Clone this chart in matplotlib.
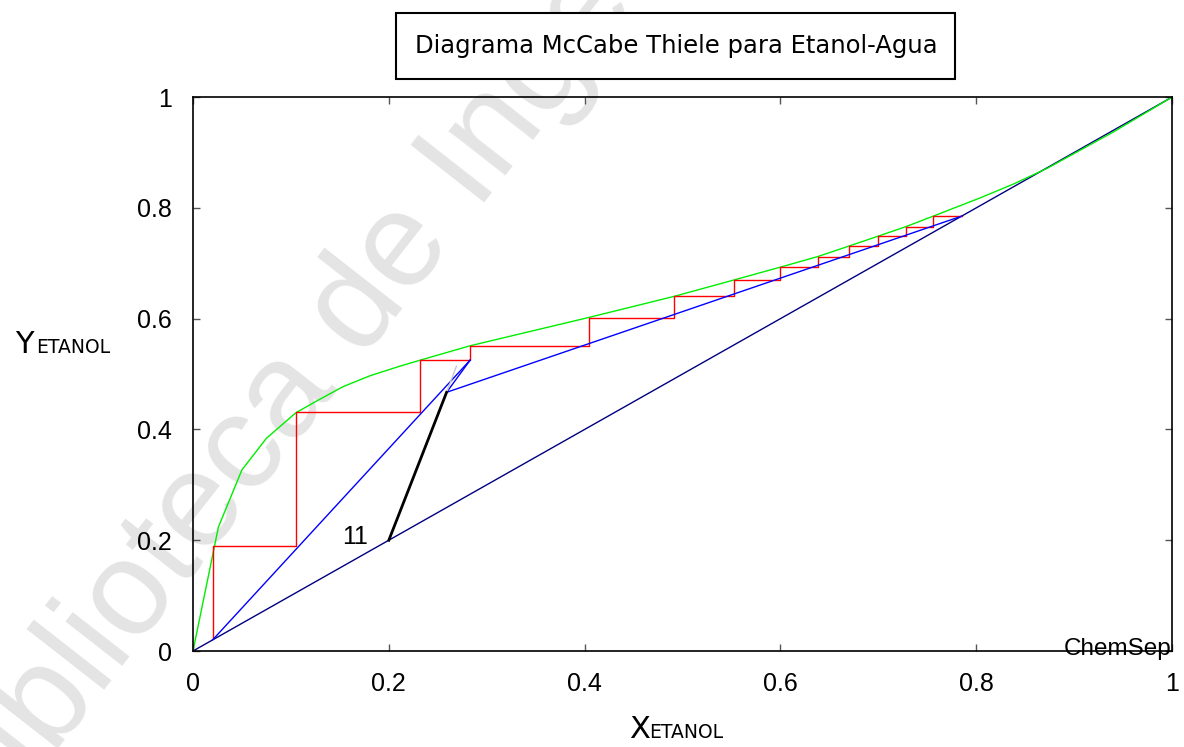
import matplotlib
matplotlib.use("Agg")
import matplotlib.pyplot as plt
from matplotlib.patches import Rectangle

# Equilibrium curve (etanol-agua)
x_eq = [0.0, 0.026, 0.050, 0.075, 0.105, 0.126, 0.153, 0.181, 0.211, 0.232,
        0.283, 0.404, 0.491, 0.553, 0.600, 0.638, 0.670, 0.700, 0.728, 0.756,
        0.804, 0.838, 0.872, 0.940, 1.0]
y_eq = [0.0, 0.224, 0.327, 0.384, 0.430, 0.451, 0.477, 0.497, 0.514, 0.525,
        0.551, 0.602, 0.640, 0.670, 0.693, 0.712, 0.731, 0.749, 0.766, 0.785,
        0.818, 0.843, 0.871, 0.937, 1.0]

# Operating lines
x_rect = [0.785, 0.259, 0.283]
y_rect = [0.785, 0.467, 0.525]
x_strip = [0.020, 0.283]
y_strip = [0.020, 0.525]

# q-line (feed)
x_q = [0.200, 0.259]
y_q = [0.200, 0.467]
x_q_ext = [0.259, 0.269]
y_q_ext = [0.467, 0.514]

# Stage stepping (from distillate down to bottoms)
x_steps = [0.785, 0.756, 0.756, 0.728, 0.728, 0.700, 0.700, 0.670, 0.670,
           0.638, 0.638, 0.600, 0.600, 0.553, 0.553, 0.491, 0.491, 0.404,
           0.404, 0.283, 0.283, 0.232, 0.232, 0.105, 0.105, 0.020, 0.020]
y_steps = [0.785, 0.785, 0.766, 0.766, 0.749, 0.749, 0.731, 0.731, 0.712,
           0.712, 0.693, 0.693, 0.670, 0.670, 0.640, 0.640, 0.602, 0.602,
           0.551, 0.551, 0.525, 0.525, 0.431, 0.431, 0.190, 0.190, 0.023]

ticks = [0, 0.2, 0.4, 0.6, 0.8, 1]
tick_labels = ["0", "0.2", "0.4", "0.6", "0.8", "1"]
feed_stage = "11"

fig = plt.figure(figsize=(11.84, 7.47), dpi=100)
ax = fig.add_axes([0.163, 0.1285, 0.827, 0.7416])
ax.patch.set_alpha(0)

# watermark
fig.text(0.325, 0.635, "Biblioteca de Ingeniería", fontsize=97, rotation=52,
         color="#e4e4e4", ha="center", va="center", family="Liberation Sans",
         zorder=-1)

ax.plot([0, 1], [0, 1], color="#000080", lw=1)
ax.plot(x_eq, y_eq, color="#00ee00", lw=1)
ax.plot(x_steps, y_steps, color="#ff0000", lw=1)
ax.plot(x_strip, y_strip, color="#0000ff", lw=1)
ax.plot(x_rect, y_rect, color="#0000ff", lw=1)
ax.plot(x_q_ext, y_q_ext, color="#c8c8c8", lw=1)
ax.plot(x_q, y_q, color="black", lw=2)
ax.text(0.179, 0.206, feed_stage, fontsize=18,
        family="Liberation Sans", ha="right", va="center")

ax.set_xlim(0, 1)
ax.set_ylim(0, 1)
ax.set_xticks(ticks)
ax.set_xticklabels(tick_labels)
ax.set_yticks(ticks)
ax.set_yticklabels(tick_labels)
ax.tick_params(direction="in", length=5, width=1, color="#555555",
               top=True, right=True, labelsize=18, pad=15)
for lab in ax.get_xticklabels() + ax.get_yticklabels():
    lab.set_family("Liberation Sans")
for s in ax.spines.values():
    s.set_linewidth(1.2)

ax.text(0.9995, -0.007, "ChemSep", transform=ax.transAxes, ha="right",
        va="baseline", fontsize=17.5, family="Liberation Sans")

# title box
fig.add_artist(Rectangle((0.3345, 0.894), 0.4721, 0.089, transform=fig.transFigure,
                         fc="white", ec="black", lw=1.5))
fig.text(0.5714, 0.929, "Diagrama McCabe Thiele para Etanol-Agua",
         ha="center", va="baseline", fontsize=17.5, family="DejaVu Sans")

# axis labels with small-caps style subscript
fig.text(0.013, 0.527, "Y", fontsize=22, va="baseline", ha="left")
fig.text(0.0305, 0.527, "ETANOL", fontsize=13.5, va="baseline", ha="left")
fig.text(0.531, 0.012, "X", fontsize=22, va="baseline", ha="left")
fig.text(0.548, 0.012, "ETANOL", fontsize=13.5, va="baseline", ha="left")

fig.savefig("out.png", dpi=100)
